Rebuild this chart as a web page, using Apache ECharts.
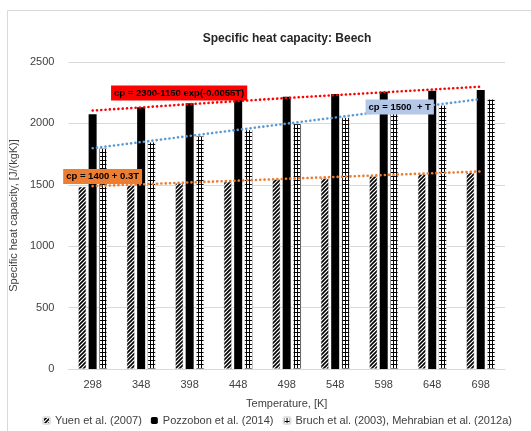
<!DOCTYPE html>
<html>
<head>
<meta charset="utf-8">
<script src="https://cdn.jsdelivr.net/npm/echarts@6/dist/echarts.min.js"></script>
<style>html,body{margin:0;padding:0;background:#fff}#c{width:531px;height:431px}</style>
</head>
<body>
<div id="c"></div>
<script>
var categories = ['298','348','398','448','498','548','598','648','698'];
var yuen = [1484,1498,1512,1525,1545,1553,1572,1586,1599];
var pozzobon = [2074,2131,2164,2190,2217,2239,2258,2266,2272];
var bruch = [1798,1848,1898,1948,1998,2048,2098,2148,2198];
var trendRed = [2105,2130,2157,2182,2207,2230,2253,2276,2299];
var trendBlue = [1798,1848,1898,1948,1998,2048,2098,2148,2198];
var trendOrange = [1489,1504,1519,1534,1549,1564,1579,1594,1609];
var yTicks = [0,500,1000,1500,2000,2500];

function diagPattern(){
  var c=document.createElement('canvas'); c.width=4; c.height=4;
  var g=c.getContext('2d'); g.fillStyle='#fff'; g.fillRect(0,0,4,4);
  g.strokeStyle='#000'; g.lineWidth=1.6;
  g.beginPath(); g.moveTo(-1,5); g.lineTo(5,-1); g.moveTo(-1,1); g.lineTo(1,-1); g.moveTo(3,5); g.lineTo(5,3); g.stroke();
  return c;
}
function gridPattern(){
  var c=document.createElement('canvas'); c.width=3; c.height=4;
  var g=c.getContext('2d'); g.fillStyle='#fff'; g.fillRect(0,0,3,4);
  g.fillStyle='#000'; g.fillRect(0,0,1,4); g.fillRect(0,0,3,1);
  return c;
}
var font='"Liberation Sans", Arial, sans-serif';
var chart=echarts.init(document.getElementById('c'));
var lblBase={show:true,position:'inside',fontFamily:font,fontSize:9.5,fontWeight:'bold',color:'#000',padding:[3,3,2,3]};
chart.setOption({
  animation:false,
  textStyle:{fontFamily:font},
  title:{text:'Specific heat capacity: Beech',left:282,textAlign:'center',top:28,textStyle:{fontSize:12,fontWeight:'bold',color:'#262626',fontFamily:font}},
  grid:{left:62,right:26,top:62,bottom:62},
  graphic:[{type:'rect',shape:{x:7.5,y:10.5,width:560,height:460},style:{fill:'none',stroke:'#d9d9d9',lineWidth:1},silent:true}],
  legend:{bottom:5,left:42,padding:0,itemWidth:7,itemHeight:7,itemGap:9,textStyle:{fontSize:11,color:'#404040',fontFamily:font},
    data:['Yuen et al. (2007)','Pozzobon et al. (2014)','Bruch et al. (2003), Mehrabian et al. (2012a)']},
  xAxis:{type:'category',data:categories,name:'Temperature, [K]',nameLocation:'middle',nameGap:29,
    nameTextStyle:{fontSize:11,color:'#404040'},
    axisLine:{lineStyle:{color:'#d9d9d9'}},axisTick:{show:false},
    axisLabel:{fontSize:11,color:'#404040',margin:10}},
  yAxis:{type:'value',min:0,max:2500,interval:500,name:'Specific heat capacity, [J/(kgK)]',nameLocation:'middle',nameGap:40,
    nameTextStyle:{fontSize:11,color:'#404040'},
    axisLine:{show:false},axisTick:{show:false},
    axisLabel:{fontSize:11,color:'#404040',margin:14,customValues:yTicks,formatter:function(v){return String(v);}},
    splitLine:{lineStyle:{color:'#d9d9d9'}}},
  series:[
    {name:'Yuen et al. (2007)',type:'bar',data:yuen,barWidth:8,barGap:'30%',
      itemStyle:{color:{image:diagPattern(),repeat:'repeat'},borderColor:'#e0e0e0',borderWidth:0.5}},
    {name:'Pozzobon et al. (2014)',type:'bar',data:pozzobon,barWidth:8,barGap:'30%',itemStyle:{color:'#000'}},
    {name:'Bruch et al. (2003), Mehrabian et al. (2012a)',type:'bar',data:bruch,barWidth:8,barGap:'30%',
      itemStyle:{color:{image:gridPattern(),repeat:'repeat'},borderColor:'#e0e0e0',borderWidth:0.5}},
    {type:'line',data:trendRed,symbol:'none',z:3,lineStyle:{color:'#ff0000',width:2.6,type:[0.1,4.2],cap:'round'},
      markPoint:{z:20,symbol:'rect',symbolSize:1,itemStyle:{color:'rgba(0,0,0,0)'},
        data:[{coord:[1,2248],label:Object.assign({},lblBase,{formatter:'cp = 2300-1150 exp(-0.0055T)',backgroundColor:'#ff0000',offset:[38,0]})}]}},
    {type:'line',data:trendBlue,symbol:'none',z:3,lineStyle:{color:'#5b9bd5',width:2.6,type:[0.1,4.2],cap:'round'},
      markPoint:{z:20,symbol:'rect',symbolSize:1,itemStyle:{color:'rgba(0,0,0,0)'},
        data:[{coord:[6,2134],label:Object.assign({},lblBase,{formatter:'cp = 1500  + T',backgroundColor:'#b4c7e7',offset:[16,0]})}]}},
    {type:'line',data:trendOrange,symbol:'none',z:3,lineStyle:{color:'#ed7d31',width:2.6,type:[0.1,4.2],cap:'round'},
      markPoint:{z:20,symbol:'rect',symbolSize:1,itemStyle:{color:'rgba(0,0,0,0)'},
        data:[{coord:[0,1568],label:Object.assign({},lblBase,{formatter:'cp = 1400 + 0.3T',backgroundColor:'#ed7d31',offset:[10,0]})}]}}
  ]
});
</script>
</body>
</html>
